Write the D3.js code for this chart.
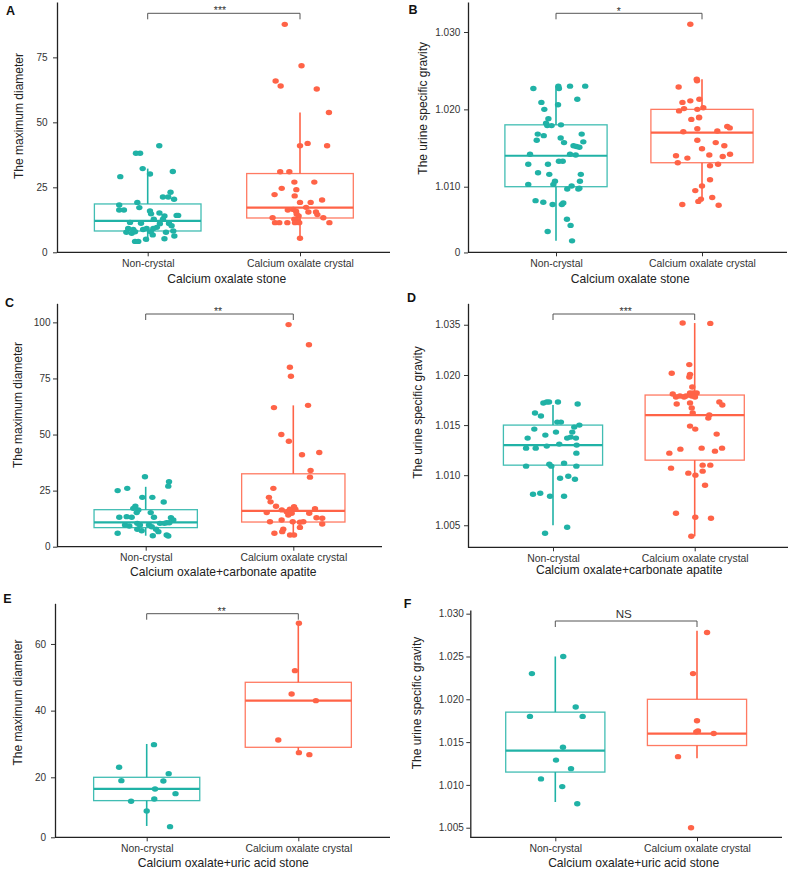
<!DOCTYPE html>
<html><head><meta charset="utf-8">
<script src="https://cdn.jsdelivr.net/npm/d3@7"></script>
<style>
body{margin:0;background:#fff}
svg{display:block}
text{font-family:"Liberation Sans",Arial,Helvetica,sans-serif}
</style>
</head><body>
<svg id="chart" width="794" height="872"></svg>
<script>
// ---------------- DATA ----------------
const categories = ["Non-crystal", "Calcium oxalate crystal"];
const panelLetters = ["A", "B", "C", "D", "E", "F"];
const xTitles = ["Calcium oxalate stone", "Calcium oxalate stone",
  "Calcium oxalate+carbonate apatite", "Calcium oxalate+carbonate apatite",
  "Calcium oxalate+uric acid stone", "Calcium oxalate+uric acid stone"];
const yTitles = ["The maximum diameter", "The urine specific gravity",
  "The maximum diameter", "The urine specific gravity",
  "The maximum diameter", "The urine specific gravity"];
const sigLabels = ["***", "*", "**", "***", "**", "NS"];

// y tick values and their printed labels
const yTicksA = [0, 25, 50, 75];            const yLabelsA = ["0", "25", "50", "75"];
const yTicksB = [1.0015, 1.010, 1.020, 1.030]; const yLabelsB = ["0", "1.010", "1.020", "1.030"];
const yTicksC = [0, 25, 50, 75, 100];       const yLabelsC = ["0", "25", "50", "75", "100"];
const yTicksD = [1.005, 1.010, 1.015, 1.020, 1.035]; const yLabelsD = ["1.005", "1.010", "1.015", "1.020", "1.035"];
const yTicksE = [2.0, 20, 40, 60];          const yLabelsE = ["0", "20", "40", "60"];
const yTicksF = [1.005, 1.010, 1.015, 1.020, 1.025, 1.030]; const yLabelsF = ["1.005", "1.010", "1.015", "1.020", "1.025", "1.030"];

// box statistics per group: [lower whisker, Q1, median, Q3, upper whisker]
const boxA = [[4.2, 8.2, 12.1, 18.6, 32.2], [5.4, 13.2, 17.2, 30.3, 53.8]];
const boxB = [[1.0030, 1.0100, 1.0140, 1.0180, 1.0230], [1.0081, 1.0131, 1.0170, 1.0200, 1.0239]];
const boxC = [[4.9, 8.5, 10.8, 16.5, 26.7], [4.9, 11.0, 16.0, 32.5, 63.0]];
const boxD = [[1.0050, 1.0110, 1.0130, 1.0150, 1.0170], [1.0039, 1.0115, 1.0160, 1.0180, 1.0355]];
const boxE = [[5.4, 13.0, 16.5, 20.0, 30.0], [26.8, 29.0, 43.0, 48.5, 66.2]];
const boxF = [[1.0080, 1.0115, 1.0140, 1.0185, 1.0250], [1.0131, 1.0146, 1.0160, 1.0200, 1.0280]];

// points: [horizontal jitter (fraction of category spacing), value]
const ptsA_non = [[0.076,41.0],[-0.077,38.1],[-0.05,38.1],[-0.033,32.2],[0.015,30.1],[-0.18,29.1],[0.165,31.1],[0.15,23.1],[0.10,21.3],[0.135,21.3],[0.173,20.4],[-0.068,19.2],[-0.187,18.2],[-0.055,17.2],[-0.187,16.3],[-0.156,16.3],[0.015,15.9],[0.022,14.8],[0.077,15.1],[0.11,14.0],[0.19,14.2],[0.2,14.2],[0.1,12.7],[0.04,12.7],[-0.044,11.2],[-0.116,11.5],[0.08,11.0],[0.14,11.1],[0.157,10.2],[0.06,9.6],[0.037,9.2],[-0.128,9.2],[-0.095,8.8],[-0.03,8.8],[-0.007,9.2],[-0.14,7.7],[-0.105,7.3],[-0.083,7.9],[0.02,7.9],[0.033,6.7],[0.168,8.2],[0.12,7.7],[0.175,6.3],[-0.011,5.0],[0.11,5.2],[-0.083,4.2],[-0.062,4.2]];
const ptsA_cry = [[-0.10,87.7],[0.01,71.8],[-0.16,65.9],[-0.127,64.0],[0.11,62.8],[0.19,53.8],[0,41.0],[0.05,41.9],[0.178,41.0],[-0.13,31.0],[-0.07,31.0],[-0.037,27.0],[0.094,27.0],[-0.12,24.6],[-0.024,24.1],[-0.167,22.2],[-0.035,21.7],[0.145,20.1],[0,19.2],[0.07,19.2],[0.04,17.3],[-0.08,16.3],[-0.044,16.5],[-0.026,15.8],[0.055,15.5],[0.105,15.5],[-0.022,14.7],[-0.009,14.0],[0.114,14.5],[-0.18,13.3],[0.153,13.3],[-0.037,12.7],[-0.015,12.2],[-0.164,11.4],[-0.136,11.4],[-0.083,11.4],[-0.033,11.4],[-0.005,11.4],[0.193,11.4],[0,5.4]];
const ptsB_non = [[-0.155,1.0227],[0.016,1.0230],[0.02,1.0227],[0.096,1.0230],[0.2,1.0230],[-0.1,1.0209],[0.146,1.0213],[-0.08,1.0200],[0.014,1.0206],[-0.052,1.0188],[-0.068,1.0182],[-0.06,1.0179],[-0.03,1.0179],[0.034,1.0180],[-0.125,1.0168],[-0.084,1.0166],[0.176,1.0168],[0.032,1.0163],[-0.132,1.0160],[0.055,1.0157],[0.187,1.0158],[0.12,1.0153],[0.14,1.0152],[0.16,1.0151],[-0.178,1.0142],[0.096,1.0142],[0.135,1.0141],[-0.19,1.0129],[-0.055,1.0129],[0.02,1.0133],[0.046,1.0133],[-0.123,1.0118],[-0.046,1.0116],[0.17,1.0116],[-0.007,1.0107],[-0.018,1.0103],[0.164,1.0107],[-0.19,1.0103],[0.107,1.0101],[0.077,1.0097],[0.16,1.0098],[0.153,1.0097],[-0.14,1.0082],[-0.087,1.0080],[-0.023,1.0077],[0.04,1.0077],[0.05,1.0079],[0.075,1.0058],[0.1,1.0050],[-0.057,1.0042],[0.11,1.0030]];
const ptsB_cry = [[-0.08,1.0310],[-0.036,1.0239],[-0.034,1.0237],[-0.16,1.0229],[-0.134,1.0209],[-0.08,1.0211],[-0.018,1.0213],[-0.157,1.0198],[-0.123,1.0201],[-0.032,1.0200],[0.009,1.0202],[-0.073,1.0187],[-0.02,1.0190],[-0.02,1.0189],[0.173,1.0178],[0.19,1.0176],[-0.128,1.0171],[-0.032,1.0175],[0.105,1.0172],[-0.032,1.0160],[0.094,1.0157],[0.153,1.0153],[0,1.0149],[0.05,1.0141],[-0.178,1.0140],[-0.1,1.0137],[0.192,1.0142],[0.142,1.0139],[-0.166,1.0131],[0.11,1.0129],[0.055,1.0127],[0.055,1.0109],[0,1.0101],[-0.046,1.0095],[0.07,1.0086],[-0.007,1.0084],[-0.025,1.0081],[-0.135,1.0077],[0.114,1.0076]];
const ptsC_non = [[-0.005,31.2],[0.158,29.0],[0.153,27.0],[-0.19,25.0],[-0.125,26.0],[-0.023,22.0],[0.045,22.0],[0.122,19.9],[-0.07,18.1],[-0.084,17.1],[-0.05,16.4],[-0.061,15.2],[0.034,15.2],[-0.179,13.1],[-0.129,13.4],[-0.095,13.1],[0.056,13.1],[0.171,12.9],[0.187,11.9],[0.142,10.7],[0.16,10.7],[-0.14,9.7],[-0.111,9.2],[-0.057,10.4],[-0.039,9.7],[0.022,9.7],[0.041,8.9],[0.097,10.4],[0.126,10.4],[-0.057,7.8],[-0.027,7.1],[0.07,7.8],[0.086,6.7],[-0.19,6.0],[0.048,4.9],[0.142,5.2],[0.153,4.8]];
const ptsC_cry = [[-0.032,99],[0.106,90],[-0.023,80],[-0.016,76],[-0.131,62],[0.1,63],[-0.081,50],[-0.03,47],[0.059,41],[0.176,42],[0.117,34],[0.113,31],[-0.135,26],[-0.165,22],[-0.154,20],[-0.117,18],[-0.078,16.4],[-0.045,15.6],[-0.023,16.7],[0.005,17.8],[0.014,16.7],[-0.18,15.2],[0.147,16.9],[0.108,14.9],[-0.034,14.1],[-0.011,14.9],[0.157,12.9],[0.196,12.7],[-0.079,11.9],[-0.158,11.1],[-0.004,11.1],[0.045,10.9],[0.068,11.1],[0.196,10.1],[0.045,8.6],[-0.068,7.8],[-0.075,6.7],[-0.128,6.0],[-0.022,5.2],[0.005,5.2]];
const ptsD_non = [[-0.068,1.0172],[-0.044,1.0173],[-0.028,1.0173],[0.035,1.0173],[0.174,1.0171],[-0.127,1.0162],[-0.085,1.0159],[0.03,1.0153],[0.056,1.0153],[0.15,1.0148],[0.186,1.0150],[-0.132,1.0146],[0.136,1.0143],[0.021,1.0143],[-0.054,1.0140],[-0.179,1.0137],[0.1,1.0137],[0.125,1.0138],[0.162,1.0137],[-0.19,1.0127],[-0.122,1.0127],[-0.044,1.0129],[0.044,1.0131],[0.167,1.0130],[0.165,1.0122],[-0.19,1.0109],[-0.026,1.0111],[-0.012,1.0109],[0.078,1.0112],[0.165,1.0109],[0.05,1.0097],[0.108,1.0099],[0.155,1.0096],[-0.141,1.0081],[-0.09,1.0082],[-0.021,1.0079],[0.078,1.0079],[0.1,1.0048],[-0.056,1.0042]];
const ptsD_cry = [[-0.085,1.0355],[0.11,1.0354],[-0.038,1.0231],[-0.162,1.0205],[-0.033,1.0202],[-0.038,1.0198],[-0.017,1.0188],[-0.155,1.0181],[-0.132,1.0178],[-0.104,1.0179],[-0.075,1.0178],[-0.061,1.0179],[-0.033,1.0182],[-0.01,1.0182],[0.014,1.0182],[-0.021,1.0179],[0.002,1.0178],[-0.127,1.0171],[-0.033,1.0172],[-0.021,1.0167],[0.174,1.0173],[0.195,1.0170],[-0.014,1.0162],[0.103,1.0160],[0.096,1.0157],[-0.033,1.0149],[0.004,1.0146],[0.155,1.0141],[-0.179,1.0122],[-0.101,1.0126],[0.049,1.0127],[0.143,1.0124],[0.193,1.0127],[-0.167,1.0107],[0.056,1.0110],[0.11,1.0110],[-0.045,1.0102],[0.005,1.0100],[0.056,1.0104],[0.073,1.0090],[-0.132,1.0062],[0.004,1.0058],[0.115,1.0057],[-0.024,1.0039]];
const ptsE_non = [[0.048,29.8],[-0.182,23.0],[0.145,21.1],[-0.167,19.0],[0.11,18.9],[0.055,16.5],[0.19,15.1],[-0.103,12.8],[0.05,13.5],[0,9.9],[0.154,5.2]];
const ptsE_cry = [[0.004,66.2],[-0.022,52.0],[-0.044,45.0],[0.116,43.0],[-0.132,31.2],[0.004,27.4],[0.073,26.8]];
const ptsF_non = [[0.056,1.0250],[-0.165,1.0230],[0.144,1.0191],[-0.179,1.0180],[0.193,1.0180],[0.054,1.0144],[0.005,1.0129],[0.111,1.0119],[-0.101,1.0107],[0.049,1.0098],[0.155,1.0078]];
const ptsF_cry = [[0.071,1.0278],[-0.028,1.0230],[0,1.0175],[-0.005,1.0162],[0.007,1.0163],[0.118,1.0160],[-0.134,1.0133],[-0.042,1.0050]];

// ---------------- LAYOUT / STYLE ----------------
const colors = ["#20B2A6", "#FF6347"];
const layouts = [
  {axisX:57,  right:390, top:2,     bottom:252.3, centers:[147.7,300],   yDomain:[0,96.3],   yRange:null, yPad:5.5,
   bracketY:13.3, sigX:220, sigY:14, sigSize:10.5, yTitleX:18.7, yTitleY:116, xTitleX:226.7, xTitleY:282.5, letterX:6, letterY:15},
  {axisX:468, right:787, top:2,     bottom:252.3, centers:[556,702],     yDomain:[1.00152,1.03388], yRange:null, yPad:3.7,
   bracketY:13.3, sigX:618.7, sigY:14.5, sigSize:10.5, yTitleX:422.7, yTitleY:108.3, xTitleX:630.3, xTitleY:283.3, letterX:408.5, letterY:13.5},
  {axisX:57,  right:382, top:303.3, bottom:546.7, centers:[145.7,293.3], yDomain:[0,108.5],  yRange:null, yPad:2.5,
   bracketY:314, sigX:218, sigY:315, sigSize:10.5, yTitleX:18, yTitleY:405, xTitleX:223.3, xTitleY:576, letterX:5, letterY:306.7},
  {axisX:468, right:788, top:303.3, bottom:547.3, centers:[553,694.7],   yDomain:[1.0028,1.020,1.0414], yRange:[547.3,375,303.3], yPad:3.7,
   bracketY:314, sigX:625.7, sigY:315, sigSize:10.5, yTitleX:417.8, yTitleY:412.5, xTitleX:629.2, xTitleY:574, letterX:407, letterY:301.7},
  {axisX:55,  right:390, top:603.3, bottom:837.3, centers:[146.7,298.3], yDomain:[2.0,72.2], yRange:null, yPad:5,
   bracketY:613.7, sigX:221.7, sigY:615, sigSize:10.5, yTitleX:17.5, yTitleY:702.5, xTitleX:223.3, xTitleY:867.3, letterX:3.3, letterY:603.3},
  {axisX:470.3, right:782, top:610, bottom:837.3, centers:[555.3,697], yDomain:[1.00388,1.03043], yRange:null, yPad:2.5,
   bracketY:621, sigX:623.7, sigY:618.3, sigSize:11.6, yTitleX:416.5, yTitleY:703, xTitleX:633.7, xTitleY:867.3, letterX:403.7, letterY:608.3}
];

const panelData = [
  {ticks:yTicksA, labels:yLabelsA, box:boxA, pts:[ptsA_non, ptsA_cry]},
  {ticks:yTicksB, labels:yLabelsB, box:boxB, pts:[ptsB_non, ptsB_cry]},
  {ticks:yTicksC, labels:yLabelsC, box:boxC, pts:[ptsC_non, ptsC_cry]},
  {ticks:yTicksD, labels:yLabelsD, box:boxD, pts:[ptsD_non, ptsD_cry]},
  {ticks:yTicksE, labels:yLabelsE, box:boxE, pts:[ptsE_non, ptsE_cry]},
  {ticks:yTicksF, labels:yLabelsF, box:boxF, pts:[ptsF_non, ptsF_cry]}
];

// ---------------- DRAW ----------------
const svg = d3.select("#chart");
svg.append("rect").attr("width",794).attr("height",872).attr("fill","#fff");

panelData.forEach((pd, pi) => {
  const L = layouts[pi];
  const g = svg.append("g");
  const y = d3.scaleLinear().domain(L.yDomain).range(L.yRange || [L.bottom, L.top]);
  const x = d3.scalePoint().domain(categories).range(L.centers);
  const step = L.centers[1] - L.centers[0];
  const bw = step * 0.7;

  // boxes
  categories.forEach((c, ci) => {
    const [lo, q1, med, q3, hi] = pd.box[ci];
    const cx = x(c);
    const col = colors[ci];
    g.append("line").attr("x1",cx).attr("x2",cx).attr("y1",y(hi)).attr("y2",y(q3))
      .attr("stroke",col).attr("stroke-width",1.6);
    g.append("line").attr("x1",cx).attr("x2",cx).attr("y1",y(q1)).attr("y2",y(lo))
      .attr("stroke",col).attr("stroke-width",1.6);
    g.append("rect").attr("x",cx-bw/2).attr("width",bw).attr("y",y(q3)).attr("height",y(q1)-y(q3))
      .attr("fill","none").attr("stroke",col).attr("stroke-opacity",0.85).attr("stroke-width",1.3);
    g.append("line").attr("x1",cx-bw/2).attr("x2",cx+bw/2).attr("y1",y(med)).attr("y2",y(med))
      .attr("stroke",col).attr("stroke-width",2.2);
  });

  // points
  categories.forEach((c, ci) => {
    g.append("g").selectAll("ellipse").data(pd.pts[ci]).join("ellipse")
      .attr("cx", d => x(c) + d[0]*step)
      .attr("cy", d => y(d[1]))
      .attr("rx", 3.2).attr("ry", 2.7)
      .attr("fill", colors[ci]);
  });

  // y axis
  const ya = g.append("g").attr("transform",`translate(${L.axisX},0)`)
    .call(d3.axisLeft(y).tickValues(pd.ticks).tickFormat((d,i)=>pd.labels[i]).tickSize(4).tickSizeOuter(0).tickPadding(L.yPad));
  ya.select(".domain").attr("stroke","#222").attr("stroke-width",1.3);
  ya.selectAll(".tick line").attr("stroke","#333").attr("stroke-width",1);
  ya.selectAll(".tick text").attr("fill","#333").style("font-size","10px").style("font-family","Liberation Sans, Arial, sans-serif");

  // x axis
  const xa = g.append("g").attr("transform",`translate(0,${L.bottom})`)
    .call(d3.axisBottom(x).tickSize(4).tickSizeOuter(0).tickPadding(3));
  xa.select(".domain").remove();
  xa.selectAll(".tick line").attr("stroke","#333").attr("stroke-width",1);
  xa.selectAll(".tick text").attr("fill","#333").style("font-size","10.4px").style("font-family","Liberation Sans, Arial, sans-serif");
  g.append("line").attr("x1",L.axisX).attr("x2",L.right).attr("y1",L.bottom).attr("y2",L.bottom)
    .attr("stroke","#222").attr("stroke-width",1.3);

  // titles
  g.append("text").attr("x",L.xTitleX).attr("y",L.xTitleY).attr("text-anchor","middle")
    .style("font-size","12.1px").attr("fill","#222").text(xTitles[pi]);
  g.append("text").attr("transform",`translate(${L.yTitleX},${L.yTitleY}) rotate(-90)`)
    .attr("text-anchor","middle").attr("dy","0.35em")
    .style("font-size","12px").attr("fill","#222").text(yTitles[pi]);

  // panel letter
  g.append("text").attr("x",L.letterX).attr("y",L.letterY)
    .style("font-size","12.5px").style("font-weight","bold").attr("fill","#111").text(panelLetters[pi]);

  // significance bracket
  const bx0 = x(categories[0]), bx1 = x(categories[1]);
  g.append("path").attr("d",`M${bx0},${L.bracketY+6}V${L.bracketY}H${bx1}V${L.bracketY+6}`)
    .attr("fill","none").attr("stroke","#555").attr("stroke-width",1);
  g.append("text").attr("x",L.sigX).attr("y",L.sigY).attr("text-anchor","middle")
    .style("font-size",L.sigSize+"px").attr("fill","#333").text(sigLabels[pi]);
});
</script>
</body></html>
